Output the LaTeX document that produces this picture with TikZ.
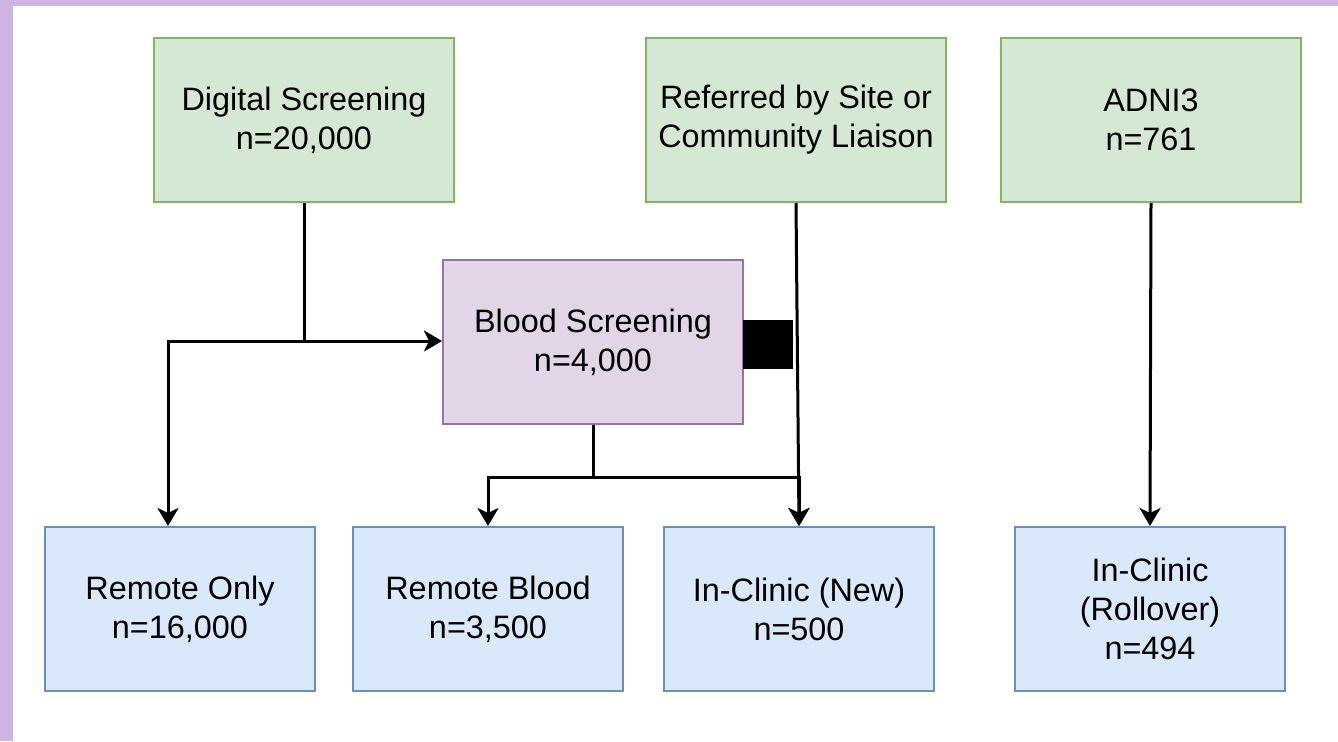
\documentclass[tikz,border=0pt]{standalone}
\usepackage{fontspec}
\setmainfont{Liberation Sans}
\usetikzlibrary{arrows.meta}

\definecolor{edgepurple}{RGB}{206,180,226}
\definecolor{greenfill}{HTML}{D5E8D4}
\definecolor{greenline}{HTML}{82B366}
\definecolor{purplefill}{HTML}{E1D5E7}
\definecolor{purpleline}{HTML}{9673A6}
\definecolor{bluefill}{HTML}{DAE8FC}
\definecolor{blueline}{HTML}{6C8EBF}

\tikzset{
	box/.style={draw, line width=1pt, inner sep=0pt, align=center,
		minimum height=82pt, font=\fontsize{16.2}{19.5}\selectfont},
	source/.style={box, fill=greenfill, draw=greenline, minimum width=150pt},
	screen/.style={box, fill=purplefill, draw=purpleline, minimum width=150pt},
	target/.style={box, fill=bluefill, draw=blueline, minimum width=135pt},
	link/.style={line width=1.5pt},
	arrow/.style={link, -{Stealth[length=9pt, width=10.5pt, inset=2.5pt]}}
}

\begin{document}
\begin{tikzpicture}[x=0.5pt, y=-0.5pt]
	\useasboundingbox (0, 0) rectangle (1338, 741);
	\fill[edgepurple] (0, 0) rectangle (1338, 6);
	\fill[edgepurple] (0, 0) rectangle (13, 741);

	\node[source] (digital) at (304, 120) {Digital Screening\\n=20,000};
	\node[source] (referred) at (796, 120) {Referred by Site or\\Community Liaison};
	\node[source] (adni) at (1151, 120) {ADNI3\\n=761};
	\node[screen] (blood) at (593, 342) {Blood Screening\\n=4,000};
	\node[target] (remoteonly) at (180, 609) {Remote Only\\n=16,000};
	\node[target] (remoteblood) at (488, 609) {Remote Blood\\n=3,500};
	\node[target] (inclinic) at (799, 609) {In-Clinic (New)\\n=500};
	\node[target] (rollover) at (1150, 609) {In-Clinic\\(Rollover)\\n=494};

	\fill (743, 320) rectangle (793, 369);

	\coordinate (split) at (304, 341);
	\coordinate (turn) at (168, 341);
	\coordinate (fork) at (593, 477);
	\draw[link] (digital.south) -- (split);
	\draw[arrow] (split) -- (blood.west |- split);
	\draw[arrow] (split) -- (turn) -- (turn |- remoteonly.north);
	\draw[link] (blood.south) -- (fork);
	\draw[arrow] (fork) -- (remoteblood.north |- fork) -- (remoteblood.north);
	\draw[arrow] (fork) -- (inclinic.north |- fork) -- (inclinic.north);
	\draw[arrow] (referred.south) -- (inclinic.north);
	\draw[arrow] (adni.south) -- (rollover.north);
\end{tikzpicture}
\end{document}
